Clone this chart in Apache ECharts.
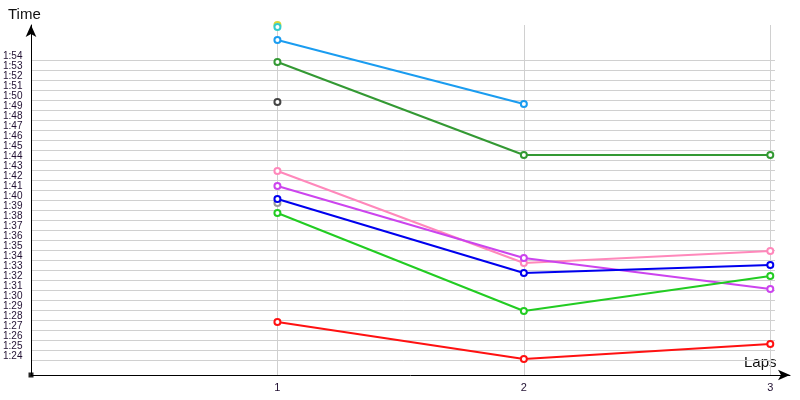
<!DOCTYPE html>
<html><head><meta charset="utf-8">
<script src="https://cdn.jsdelivr.net/npm/echarts@6/dist/echarts.min.js"></script>
<style>html,body{margin:0;padding:0;background:#fff}#c{width:800px;height:400px}</style>
</head><body><div id="c"></div>
<script>
// Laps (x categories as numeric positions)
const laps = [1, 2, 3];
// Lap times in seconds (null = no time for that lap)
const yellowTimes   = [117.5, null, null];
const cyanTimes     = [117.3, null, null];
const skyTimes      = [116.0, 109.6, null];
const darkGreenTimes= [113.8, 104.5, 104.5];
const darkGrayTimes = [109.8, null, null];
const pinkTimes     = [102.9, 93.7, 94.9];
const violetTimes   = [101.4, 94.2, 91.1];
const blueTimes     = [100.1, 92.7, 93.5];
const grayTimes     = [99.7, null, null];
const greenTimes    = [98.7, 88.9, 92.4];
const redTimes      = [87.8, 84.1, 85.6];
// Y tick range (seconds): 1:24 .. 1:54
const yTickMin = 84, yTickMax = 114;

const seriesDefs = [
  ['yellow', yellowTimes, '#d8d838'],
  ['cyan', cyanTimes, '#33cccc'],
  ['sky', skyTimes, '#1a9cf0'],
  ['darkgreen', darkGreenTimes, '#339933'],
  ['darkgray', darkGrayTimes, '#444444'],
  ['gray', grayTimes, '#999999'],
  ['pink', pinkTimes, '#ff88bb'],
  ['violet', violetTimes, '#cc44ee'],
  ['blue', blueTimes, '#0000ee'],
  ['green', greenTimes, '#22cc22'],
  ['red', redTimes, '#ff1111']
];

function fmt(v){
  const m = Math.floor(v/60), s = Math.round(v - m*60);
  return m + ':' + (s < 10 ? '0' + s : s);
}

const chart = echarts.init(document.getElementById('c'), null, {renderer:'canvas'});
chart.setOption({
  animation: false,
  backgroundColor: '#fff',
  grid: [
    {left: 31, right: 10, top: 25, bottom: 25},
    {left: 31, right: 25, top: 60, bottom: 40}
  ],
  xAxis: [
    {
      type: 'value', gridIndex: 0, min: 0, max: 3.08, interval: 1,
      axisLine: {show: true, lineStyle: {color: '#000', width: 1}, symbol: ['none', 'arrow'], symbolSize: [8, 12], symbolOffset: [0, 0]},
      axisTick: {show: false},
      axisLabel: {
        color: '#221133', fontFamily: 'Liberation Sans', fontSize: 11, margin: 7,
        formatter: v => (laps.indexOf(v) >= 0 ? String(v) : ''),
        showMinLabel: true, showMaxLabel: true
      },
      splitLine: {show: true, lineStyle: {color: ['transparent', '#d0d0d0', '#d0d0d0', '#d0d0d0', 'transparent'], width: 1}}
    },
    {type: 'value', gridIndex: 1, min: 0, max: 1, show: false}
  ],
  yAxis: [
    {
      type: 'value', gridIndex: 0, min: 82.5, max: 117.5,
      axisLine: {show: true, lineStyle: {color: '#000', width: 1}, symbol: ['none', 'arrow'], symbolSize: [8, 12]},
      axisTick: {show: false}, axisLabel: {show: false}, splitLine: {show: false}
    },
    {
      type: 'value', gridIndex: 1, min: yTickMin, max: yTickMax, interval: 1,
      axisLine: {show: false}, axisTick: {show: false},
      axisLabel: {color: '#221133', fontFamily: 'Liberation Sans', fontSize: 10, margin: 9, verticalAlign: 'bottom', padding: [0, 0, -1, 0], formatter: fmt},
      splitLine: {show: true, lineStyle: {color: '#d0d0d0', width: 1}}
    }
  ],
  graphic: [
    {type: 'text', left: 8, top: 7, style: {text: 'Time', fontFamily: 'Liberation Sans', fontSize: 15, fill: '#111'}},
    {type: 'text', left: 744, top: 355, style: {text: 'Laps', fontFamily: 'Liberation Sans', fontSize: 15, fill: '#111'}},
    {type: 'rect', shape: {x: 28.5, y: 372.5, width: 5, height: 5}, style: {fill: '#222'}}
  ],
  series: seriesDefs.map(([name, vals, color]) => ({
    name, type: 'line', xAxisIndex: 0, yAxisIndex: 0,
    data: laps.map((l, i) => [l, vals[i]]).filter(p => p[1] !== null),
    symbol: 'emptyCircle', symbolSize: 6, showSymbol: true, clip: false,
    lineStyle: {color, width: 2}, itemStyle: {color, borderWidth: 1.2},
    z: 5
  }))
});
</script></body></html>
